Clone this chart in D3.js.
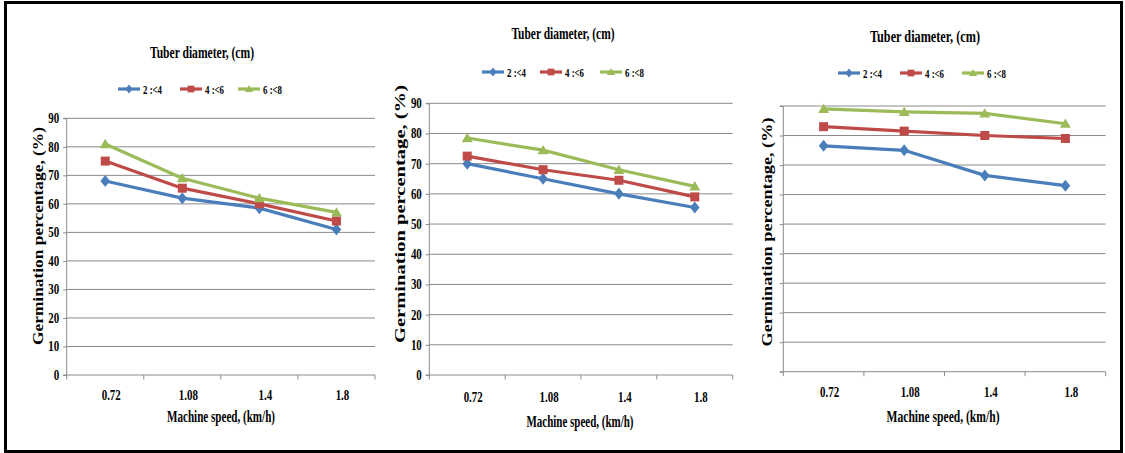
<!DOCTYPE html>
<html>
<head>
<meta charset="utf-8">
<script src="https://cdn.jsdelivr.net/npm/d3@7"></script>
<style>
  html, body { margin: 0; padding: 0; background: #fff; }
  svg { display: block; }
  text { font-family: "Liberation Serif", "Times New Roman", serif; font-weight: bold; fill: #000; }
</style>
</head>
<body>
<svg id="chart" width="1125" height="453"></svg>
<script>
// Machine speed categories (km/h)
const speedLabels = ["0.72", "1.08", "1.4", "1.8"];
// Tuber diameter classes (cm)
const diameterClasses = ["2 :<4", "4 :<6", "6 :<8"];
// Y axis ticks, germination percentage
const yTicks = [0, 10, 20, 30, 40, 50, 60, 70, 80, 90];

// Panel 1 germination percentage per diameter class
const p1Small  = [68, 62, 58.5, 51];
const p1Medium = [75, 65.5, 60, 54];
const p1Large  = [81, 69, 62, 57];
// Panel 2
const p2Small  = [70, 65, 60, 55.5];
const p2Medium = [72.5, 68, 64.5, 59];
const p2Large  = [78.5, 74.5, 68, 62.5];
// Panel 3
const p3Small  = [76.5, 75, 66.5, 63];
const p3Medium = [83, 81.5, 80, 79];
const p3Large  = [89, 88, 87.5, 84];

const panelSeries = [
  [p1Small, p1Medium, p1Large],
  [p2Small, p2Medium, p2Large],
  [p3Small, p3Medium, p3Large]
];

const colors = ["#4A7EBB", "#BE4B48", "#9BBB59"];
const shapes = ["diamond", "square", "triangle"];

// Geometry of each panel
const panels = [
  { left: 66.7, right: 375, top: 118.3, bottom: 375, yLabels: true,
    titleX: 202, titleY: 58, titleW: 104,
    legendY: 89, legendX: [118, 180, 238],
    xLabelY: 400, xTitleX: 221, xTitleY: 422, xTitleW: 108,
    yTitleX: 38, yTitleY: 236, yTitleW: 218 },
  { left: 429.3, right: 732.7, top: 103.3, bottom: 375, yLabels: true,
    titleX: 563, titleY: 39, titleW: 103,
    legendY: 72, legendX: [482, 540, 600],
    xLabelY: 402, xTitleX: 580, xTitleY: 427, xTitleW: 107,
    yTitleX: 400, yTitleY: 214, yTitleW: 258 },
  { left: 783.3, right: 1105.7, top: 106, bottom: 371.7, yLabels: false,
    titleX: 925, titleY: 42, titleW: 110,
    legendY: 73, legendX: [838, 900, 962],
    xLabelY: 397, xTitleX: 943, xTitleY: 422, xTitleW: 113,
    yTitleX: 767, yTitleY: 232, yTitleW: 229 }
];

const svg = d3.select("#chart");
const gridColor = "#8a8a8a";

function condense(sel, f) {
  sel.each(function () {
    const w = this.getComputedTextLength();
    this.setAttribute("textLength", w * f);
    this.setAttribute("lengthAdjust", "spacingAndGlyphs");
  });
}
function fitWidth(sel, w) {
  sel.attr("textLength", w).attr("lengthAdjust", "spacingAndGlyphs");
}

function markerPath(shape, s) {
  if (shape === "diamond") {
    const a = 4.8 * s, b = 6 * s;
    return `M0,${-b}L${a},0L0,${b}L${-a},0Z`;
  }
  if (shape === "square") {
    const a = 4.5 * s;
    return `M${-a},${-a}H${a}V${a}H${-a}Z`;
  }
  const a = 5.5 * s, h = 5.2 * s;
  return `M0,${-h}L${a},${h * 0.8}L${-a},${h * 0.8}Z`;
}

// Outer frame
svg.append("rect").attr("x", 5.5).attr("y", 2.5).attr("width", 1116).attr("height", 449)
  .attr("fill", "none").attr("stroke", "#000").attr("stroke-width", 3);

panels.forEach((p, pi) => {
  const g = svg.append("g");
  const x = d3.scaleBand().domain(speedLabels).range([p.left, p.right]).paddingInner(0).paddingOuter(0);
  const y = d3.scaleLinear().domain([0, 90]).range([p.bottom, p.top]);

  // Horizontal gridlines
  g.append("g").selectAll("line").data(yTicks.filter(t => t > 0)).join("line")
    .attr("x1", p.left).attr("x2", p.right)
    .attr("y1", d => y(d)).attr("y2", d => y(d))
    .attr("stroke", gridColor).attr("stroke-width", 1);

  // Y axis
  const yAxis = d3.axisLeft(y).tickValues(yTicks).tickSize(3.5).tickPadding(4)
    .tickFormat(p.yLabels ? d3.format("d") : () => "");
  const ya = g.append("g").attr("transform", `translate(${p.left},0)`).call(yAxis);
  ya.select(".domain").attr("stroke", gridColor).attr("d", `M-3.5,${p.top}H0V${p.bottom}H-3.5`);
  ya.selectAll(".tick line").attr("stroke", gridColor);
  ya.selectAll(".tick text").attr("font-size", 14).attr("font-family", null).attr("fill", "#000");
  condense(ya.selectAll(".tick text"), 0.78);

  // X axis line with ticks at category boundaries
  g.append("line").attr("x1", p.left).attr("x2", p.right)
    .attr("y1", p.bottom).attr("y2", p.bottom).attr("stroke", gridColor);
  const bounds = speedLabels.map(s => x(s)).concat([x(speedLabels[speedLabels.length - 1]) + x.bandwidth()]);
  g.append("g").selectAll("line").data(bounds).join("line")
    .attr("x1", d => d).attr("x2", d => d)
    .attr("y1", p.bottom).attr("y2", p.bottom + 4.5)
    .attr("stroke", gridColor);
  const xl = g.append("g").selectAll("text").data(speedLabels).join("text")
    .attr("x", d => x(d) + x.bandwidth() / 2 + 6).attr("y", p.xLabelY)
    .attr("text-anchor", "middle").attr("font-size", 14).text(d => d);
  condense(xl, 0.78);

  // Series lines and markers
  const line = d3.line().x((d, i) => x(speedLabels[i]) + x.bandwidth() / 2).y(d => y(d));
  panelSeries[pi].forEach((vals, si) => {
    g.append("path").datum(vals).attr("d", line)
      .attr("fill", "none").attr("stroke", colors[si]).attr("stroke-width", 3.2)
      .attr("stroke-linejoin", "round");
    g.append("g").selectAll("path").data(vals).join("path")
      .attr("transform", (d, i) => `translate(${x(speedLabels[i]) + x.bandwidth() / 2},${y(d)})`)
      .attr("d", markerPath(shapes[si], 1)).attr("fill", colors[si]);
  });

  // Title
  fitWidth(g.append("text").attr("x", p.titleX).attr("y", p.titleY)
    .attr("text-anchor", "middle").attr("font-size", 16.5).text("Tuber diameter, (cm)"), p.titleW);

  // Legend
  diameterClasses.forEach((name, si) => {
    const lx = p.legendX[si];
    g.append("line").attr("x1", lx).attr("x2", lx + 22)
      .attr("y1", p.legendY).attr("y2", p.legendY)
      .attr("stroke", colors[si]).attr("stroke-width", 3.2);
    g.append("path").attr("transform", `translate(${lx + 11},${p.legendY})`)
      .attr("d", markerPath(shapes[si], 0.75)).attr("fill", colors[si]);
    const t = g.append("text").attr("x", lx + 25).attr("y", p.legendY + 4.5)
      .attr("font-size", 13).text(name);
    condense(t, 0.68);
  });

  // Axis titles
  fitWidth(g.append("text").attr("x", p.xTitleX).attr("y", p.xTitleY)
    .attr("text-anchor", "middle").attr("font-size", 16.5).text("Machine speed, (km/h)"), p.xTitleW);
  fitWidth(g.append("text")
    .attr("transform", `translate(${p.yTitleX + 5},${p.yTitleY}) rotate(-90)`)
    .attr("text-anchor", "middle").attr("font-size", 15).text("Germination percentage, (%)"), p.yTitleW);
});
</script>
</body>
</html>
